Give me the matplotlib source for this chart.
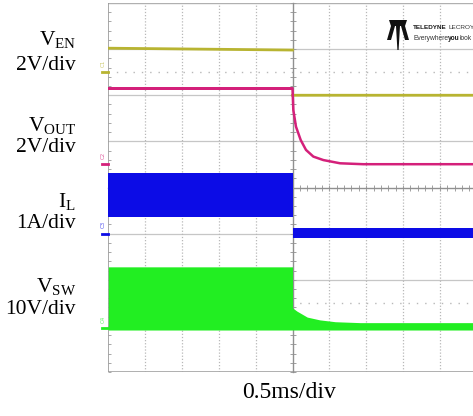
import numpy as np
import matplotlib
matplotlib.use("Agg")
import matplotlib.pyplot as plt
import matplotlib.transforms as mtransforms
from matplotlib.ticker import MultipleLocator
from matplotlib.patches import Polygon

plt.rcParams['mathtext.fontset'] = 'custom'
plt.rcParams['mathtext.rm'] = 'Liberation Serif'
plt.rcParams['mathtext.it'] = 'Liberation Serif:italic'
plt.rcParams['mathtext.bf'] = 'Liberation Serif:bold'

# Scope timebase / screen
T_DIV = 0.5          # ms per division
N_HDIV = 10
N_VDIV = 8

# Channels
ch_names = ['C1', 'C2', 'C3', 'C4']
ch_labels = [r'V$_{\mathrm{EN}}$', r'V$_{\mathrm{OUT}}$', r'I$_{\mathrm{L}}$', r'V$_{\mathrm{SW}}$']
ch_scale_text = ['2V/div', '2V/div', '1A/div', '10V/div']
ch_scale = [2.0, 2.0, 1.0, 10.0]          # units per division
ch_ground = [2.5, 0.5, -1.0, -3.05]       # ground level, divisions from centre
ch_colors = ['#b8b431', '#d4207a', '#0c0ce6', '#22ee22']

# V_EN (V); NaN separates the levels before and after the enable edge
t_en = [-2.5, 0.0, 0.0, 0.0, 2.5]
v_en = [1.04, 0.96, np.nan, -1.0, -1.0]

# V_OUT (V)
t_out = [-2.5, 0.0, 0.011, 0.047, 0.111, 0.183, 0.283, 0.418, 0.645, 0.96, 2.5]
v_out = [3.3, 3.3, 2.36, 1.64, 1.06, 0.63, 0.34, 0.19, 0.05, 0.01, 0.01]
v_out_ripple = 0.07

# I_L envelope (A)
t_il = [-2.5, 0.0, 0.0, 2.5]
il_hi = [1.31, 1.31, 0.12, 0.12]
il_lo = [0.36, 0.36, -0.10, -0.10]

# V_SW envelope (V)
t_sw = [-2.5, 0.0, 0.0, 0.06, 0.2, 0.37, 0.58, 0.92, 2.5]
sw_hi = [13.3, 13.3, 4.4, 3.7, 2.4, 1.8, 1.4, 1.2, 1.2]
sw_lo = [-0.4, -0.4, -0.4, -0.4, -0.4, -0.4, -0.4, -0.4, -0.4]

W, H = 473, 416
fig = plt.figure(figsize=(W / 100, H / 100), dpi=100)
fig.patch.set_facecolor('white')


def px(x, y):
    return (x / W, 1 - y / H)


ax = fig.add_axes([108.3 / W, 44 / H, 368.4 / W, 369 / H])
ax.set_xlim(-N_HDIV / 2 * T_DIV, N_HDIV / 2 * T_DIV)
ax.set_ylim(-N_VDIV / 2, N_VDIV / 2)


def to_div(vals, ch):
    return ch_ground[ch] + np.asarray(vals, dtype=float) / ch_scale[ch]


# graticule
for k in range(-3, 4):
    if k != 0:
        ax.axhline(k, color='#c6c6c6', lw=0.9, zorder=1)
for i in range(-4, 5):
    if i != 0:
        ax.axvline(i * T_DIV, color='#b8b8b8', lw=0.9, ls=(0, (1, 1.5)), zorder=1)
for k in (2.5, -2.5):
    ax.axhline(k, color='#b8b8b8', lw=1.0, ls=(0, (1, 5)), zorder=1)
ax.axhline(4, color='#b0b0b0', lw=1.0, zorder=1)
ax.axhline(-4, color='#a8a8a8', lw=2.0, zorder=1)
ax.axvline(-2.5, color='#9a9a9a', lw=1.2, zorder=1)

for s in ('top', 'right'):
    ax.spines[s].set_visible(False)
ax.spines['left'].set_position(('data', 0))
ax.spines['bottom'].set_position(('data', 0))
for s in ('left', 'bottom'):
    ax.spines[s].set_color('#909090')
    ax.spines[s].set_linewidth(1.0)
ax.xaxis.set_major_locator(MultipleLocator(T_DIV / 5))
ax.yaxis.set_major_locator(MultipleLocator(0.2))
ax.tick_params(direction='inout', length=4.5, width=0.7, color='#a0a0a0',
               labelbottom=False, labelleft=False)

# ticks along the left frame edge
edge = ax.secondary_yaxis(0.0)
edge.spines['left'].set_visible(False)
edge.yaxis.set_major_locator(MultipleLocator(0.2))
edge.tick_params(direction='in', length=2.5, width=0.7, color='#a8a8a8', labelleft=False)

# traces
ax.plot(t_en, to_div(v_en, 0), color=ch_colors[0], lw=2.0, zorder=3)

t_o = np.asarray(t_out)
v_o = np.asarray(v_out)
pre = t_o <= 0
ax.fill_between(t_o[pre], to_div(v_o[pre] - v_out_ripple, 1), to_div(v_o[pre] + v_out_ripple, 1),
                color=ch_colors[1], lw=0, zorder=3)
ax.plot(t_out, to_div(v_out, 1), color=ch_colors[1], lw=1.8, zorder=3)

ax.fill_between(t_il, to_div(il_lo, 2), to_div(il_hi, 2), color=ch_colors[2], lw=0, zorder=3)
ax.fill_between(t_sw, to_div(sw_lo, 3), to_div(sw_hi, 3), color=ch_colors[3], lw=0, zorder=3)

# ground markers
btr = mtransforms.blended_transform_factory(ax.transAxes, ax.transData)
for i, name in enumerate(ch_names):
    g = ch_ground[i]
    ax.plot([-0.016, 0.0], [g, g], color=ch_colors[i], lw=2.0, transform=btr, clip_on=False, zorder=4)
    ax.text(-0.013, g + 0.12, name, rotation=90, fontsize=4, color=ch_colors[i], alpha=0.7,
            ha='center', va='bottom', transform=btr, clip_on=False)

# channel labels
label_pos = [(45, 70), (131, 152), (207, 228), (292, 314)]
for i in range(4):
    y1, y2 = label_pos[i]
    fig.text(*px(76, y1), ch_labels[i], ha='right', va='baseline', fontsize=15.5,
             family='Liberation Serif')
    fig.text(*px(76, y2), ch_scale_text[i], ha='right', va='baseline', fontsize=15.5,
             family='Liberation Serif')

fig.text(*px(289.5, 398), '0.5ms/div', ha='center', va='baseline', fontsize=17,
         family='Liberation Serif')

# brand emblem
emblem = [
    [(389, 20), (407, 20), (405, 26), (391, 26)],
    [(391, 26), (395, 26), (391, 40), (387, 40)],
    [(401, 26), (405, 26), (409, 40), (405, 40)],
    [(396, 26), (400, 26), (398.6, 50), (397.4, 50)],
]
for poly in emblem:
    fig.patches.append(Polygon([px(*p) for p in poly], closed=True, transform=fig.transFigure,
                               facecolor='#111111', edgecolor='none'))

brand = ['Liberation Sans', 'DejaVu Sans']
t1 = fig.text(*px(413, 29), 'TELEDYNE', fontsize=4.6, fontweight='bold', family=brand,
              color='#1a1a1a', va='baseline')
t2 = fig.add_artist(plt.Annotation('LECROY', xy=(1, 0), xycoords=t1, xytext=(1.2, 0),
                                   textcoords='offset points', fontsize=4.6, family=brand,
                                   color='#333333', va='bottom', annotation_clip=False))
t3 = fig.text(*px(413, 40), 'Everywhere', fontsize=4.8, family=brand, color='#333333',
              va='baseline')
t4 = fig.add_artist(plt.Annotation('you', xy=(1, 0), xycoords=t3, fontsize=4.8,
                                   fontweight='bold', family=brand, color='#1a1a1a',
                                   va='bottom', annotation_clip=False))
t5 = fig.add_artist(plt.Annotation('look', xy=(1, 0), xycoords=t4, fontsize=4.8, family=brand,
                                   color='#333333', va='bottom', annotation_clip=False))

fig.savefig('out.png', dpi=100, facecolor='white')
